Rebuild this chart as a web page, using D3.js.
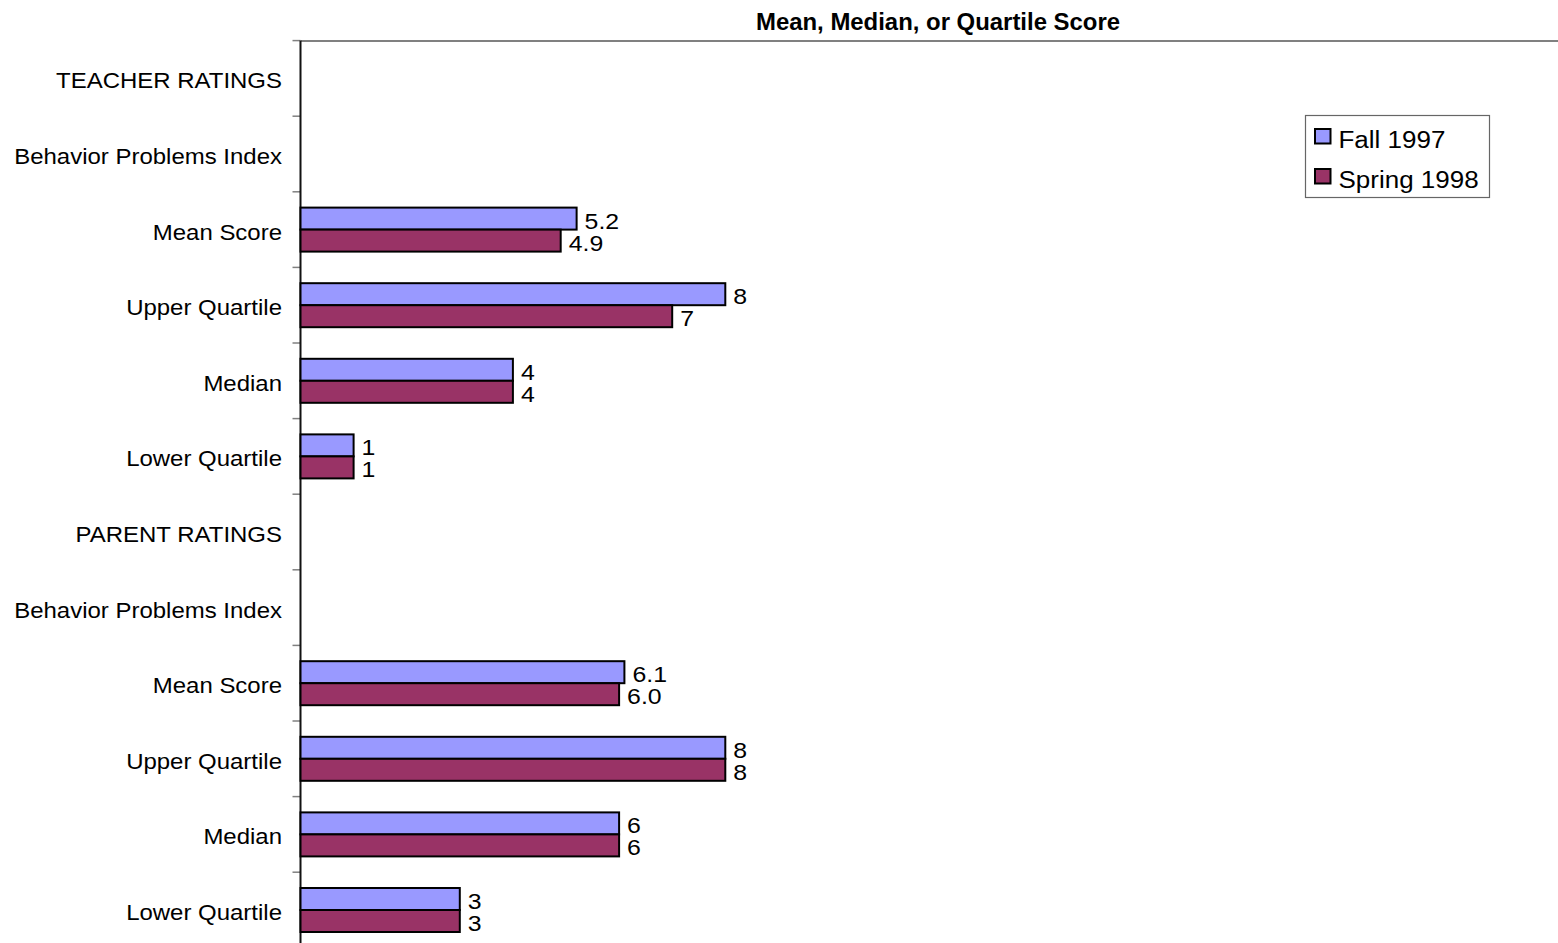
<!DOCTYPE html>
<html>
<head>
<meta charset="utf-8">
<script src="https://cdn.jsdelivr.net/npm/d3@7"></script>
<style>
  html, body { margin: 0; padding: 0; background: #ffffff; }
  svg { display: block; font-family: "Liberation Sans", Arial, Helvetica, sans-serif; }
</style>
</head>
<body>
<svg id="chart" width="1558" height="943"></svg>
<script>
// Row labels, top to bottom
const categories = [
  "TEACHER RATINGS",
  "Behavior Problems Index",
  "Mean Score",
  "Upper Quartile",
  "Median",
  "Lower Quartile",
  "PARENT RATINGS",
  "Behavior Problems Index",
  "Mean Score",
  "Upper Quartile",
  "Median",
  "Lower Quartile"
];

// Scores per row (null = heading row, no bar)
const fall1997   = [null, null, 5.2, 8, 4, 1, null, null, 6.1, 8, 6, 3];
const spring1998 = [null, null, 4.9, 7, 4, 1, null, null, 6.0, 8, 6, 3];

// Decimal places shown in each row's value labels
const labelDecimals = [0, 0, 1, 0, 0, 0, 0, 0, 1, 0, 0, 0];

const seriesNames = ["Fall 1997", "Spring 1998"];
const seriesColors = ["#9999FF", "#993366"];
const seriesValues = [fall1997, spring1998];

const chartTitle = "Mean, Median, or Quartile Score";

const svg = d3.select("#chart");

// Value axis runs along the top; plot extends past the right edge
const x = d3.scaleLinear().domain([0, 24]).range([300.5, 300.5 + 24 * 53.1]);

// One band per row, two bars per band
const y = d3.scaleBand().domain(d3.range(categories.length)).range([40.6, 40.6 + 12 * 75.6]).padding(0);
const ySub = d3.scaleBand().domain(d3.range(seriesNames.length)).range([0, y.bandwidth()])
  .paddingInner(0).paddingOuter(0.718);

// Text with a slight horizontal stretch
function stretchedText(sel, tx, ty, sx) {
  return sel.attr("transform", `translate(${tx},${ty}) scale(${sx},1)`);
}

// Top value axis (line only)
const xAxis = svg.append("g")
  .attr("transform", `translate(0,${y.range()[0]})`)
  .call(d3.axisTop(x).ticks(0).tickSizeOuter(0));
xAxis.select(".domain").attr("stroke", "#808080").attr("stroke-width", 2);

// Category axis: boundary ticks on the left
const boundaries = d3.range(categories.length + 1).map(i => y.range()[0] + i * y.step());
svg.append("g").selectAll("line.tick")
  .data(boundaries)
  .join("line")
  .attr("x1", x(0) - 8).attr("x2", x(0))
  .attr("y1", d => d).attr("y2", d => d)
  .attr("stroke", "#808080").attr("stroke-width", 1.5);

svg.append("line")
  .attr("x1", x(0)).attr("x2", x(0))
  .attr("y1", y.range()[0]).attr("y2", y.range()[1])
  .attr("stroke", "#111").attr("stroke-width", 2);

// Category labels
svg.append("g").selectAll("text")
  .data(categories)
  .join("text")
  .each(function(d, i) {
    stretchedText(d3.select(this), 282 / 1, y(i) + y.bandwidth() / 2 + 10, 1.09);
  })
  .attr("text-anchor", "end")
  .attr("font-size", 22)
  .attr("fill", "#000")
  .text(d => d);

// Bars and value labels
seriesValues.forEach((vals, s) => {
  const rows = vals.map((v, i) => ({ v, i })).filter(d => d.v !== null);
  const g = svg.append("g");
  g.selectAll("rect")
    .data(rows)
    .join("rect")
    .attr("x", x(0))
    .attr("y", d => y(d.i) + ySub(s))
    .attr("width", d => x(d.v) - x(0))
    .attr("height", ySub.bandwidth())
    .attr("fill", seriesColors[s])
    .attr("stroke", "#000")
    .attr("stroke-width", 2);
  g.selectAll("text")
    .data(rows)
    .join("text")
    .each(function(d) {
      stretchedText(d3.select(this), x(d.v) + 8, y(d.i) + ySub(s) + ySub.bandwidth() / 2 + 10, 1.13);
    })
    .attr("font-size", 22)
    .attr("fill", "#000")
    .text(d => d.v.toFixed(labelDecimals[d.i]));
});

// Title
stretchedText(svg.append("text"), 938, 30, 1.04)
  .attr("text-anchor", "middle")
  .attr("font-size", 23)
  .attr("font-weight", "bold")
  .attr("fill", "#000")
  .text(chartTitle);

// Legend
const legend = svg.append("g").attr("transform", "translate(1305,115)");
legend.append("rect")
  .attr("x", 0.5).attr("y", 0.5).attr("width", 184).attr("height", 82)
  .attr("fill", "#fff").attr("stroke", "#666").attr("stroke-width", 1.2);
seriesNames.forEach((name, s) => {
  const row = legend.append("g").attr("transform", `translate(0,${s * 40})`);
  row.append("rect")
    .attr("x", 10).attr("y", 14).attr("width", 15.5).attr("height", 14.5)
    .attr("fill", seriesColors[s]).attr("stroke", "#000").attr("stroke-width", 2);
  stretchedText(row.append("text"), 33.5, 33.3, 1.13)
    .attr("font-size", 23)
    .attr("fill", "#000")
    .text(name);
});
</script>
</body>
</html>
